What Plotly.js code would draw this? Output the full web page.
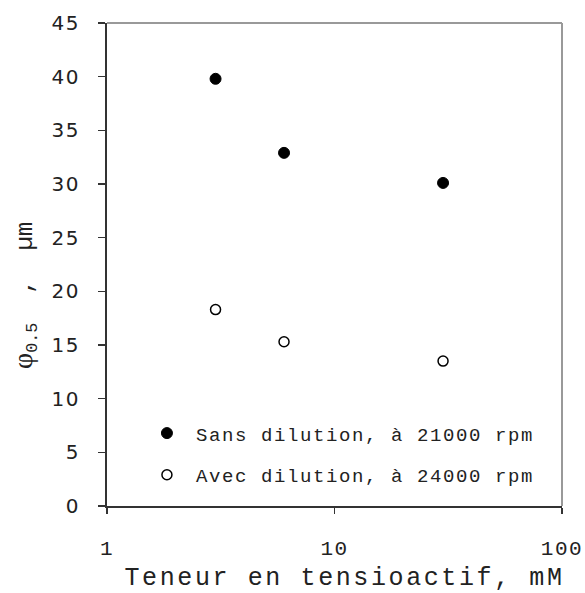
<!DOCTYPE html>
<html>
<head>
<meta charset="utf-8">
<script src="https://cdn.plot.ly/plotly-3.0.1.min.js"></script>
<style>
html,body{margin:0;padding:0;background:#fff;}
.legendtext{letter-spacing:1.6px;}
.ytick text{letter-spacing:1.5px;}
.xtick text{letter-spacing:1.5px;}
</style>
</head>
<body>
<div id="chart" style="width:585px;height:593px;"></div>
<script>
const concentrations = [3, 6, 30];
const sansDilution = [39.8, 32.9, 30.1];
const avecDilution = [18.3, 15.3, 13.5];
const seriesNames = ["Sans dilution, à 21000 rpm", "Avec dilution, à 24000 rpm"];
const xTickVals = [1, 10, 100];
const yTickVals = [0, 5, 10, 15, 20, 25, 30, 35, 40, 45];
const xTitle = "Teneur en tensioactif, mM";
const yTitle = "<span style='font-family:Liberation Serif;font-size:28px'>φ</span><sub>0.5</sub>  ,  µm";

const traces = [
  {
    x: concentrations, y: sansDilution, name: seriesNames[0], mode: "markers", type: "scatter",
    legendgroup: "a",
    marker: {symbol: "circle", size: 11, color: "#000", line: {color: "#000", width: 1}}
  },
  {
    x: concentrations, y: avecDilution, name: seriesNames[1], mode: "markers", type: "scatter",
    legendgroup: "b",
    marker: {symbol: "circle-open", size: 10, color: "#000", line: {color: "#000", width: 1.5}}
  }
];

const layout = {
  width: 585, height: 593,
  margin: {l: 107, r: 23, t: 23, b: 87},
  paper_bgcolor: "#fff", plot_bgcolor: "#fff",
  showlegend: true,
  legend: {
    x: 0.068, y: 0.19, xanchor: "left", yanchor: "top",
    bgcolor: "rgba(0,0,0,0)",
    font: {family: "Liberation Mono, monospace", size: 19, color: "#222"},
    traceorder: "grouped", tracegroupgap: 14, itemwidth: 48
  },
  xaxis: {
    type: "log", range: [0, 2],
    tickvals: xTickVals, ticktext: xTickVals.map(String),
    ticks: "outside", ticklen: 6, tickwidth: 1.5, tickcolor: "#333",
    ticklabelstandoff: 16,
    showgrid: false, zeroline: false,
    showline: true, linecolor: "#333", linewidth: 2,
    tickfont: {family: "Liberation Mono, monospace", size: 21, color: "#222"}
  },
  yaxis: {
    range: [0, 45],
    tickvals: yTickVals,
    ticks: "outside", ticklen: 7, tickwidth: 1.5, tickcolor: "#333",
    ticklabelstandoff: 14,
    showgrid: false, zeroline: false,
    showline: true, linecolor: "#333", linewidth: 2,
    tickfont: {family: "DejaVu Sans, sans-serif", size: 20, color: "#222"}
  },
  annotations: [
    {text: yTitle, xref: "paper", yref: "paper", x: -0.18, y: 0.435, xanchor: "center", yanchor: "middle",
     textangle: -90, showarrow: false, font: {family: "Liberation Mono, monospace", size: 24, color: "#222"}},
    {text: xTitle, xref: "paper", yref: "paper", x: 0.523, y: -0.151, xanchor: "center", yanchor: "middle",
     showarrow: false, font: {family: "Liberation Mono, monospace", size: 25, color: "#222"}}
  ],
  shapes: [
    {type: "line", xref: "paper", yref: "paper", x0: 0, x1: 1, y0: 1, y1: 1, line: {color: "#999", width: 2}},
    {type: "line", xref: "paper", yref: "paper", x0: 1, x1: 1, y0: 0, y1: 1, line: {color: "#999", width: 2}}
  ]
};

Plotly.newPlot("chart", traces, layout, {displayModeBar: false, staticPlot: true}).then(function () {
  const t = document.querySelectorAll(".annotation-text");
  if (t.length > 1) { t[1].style.letterSpacing = "2.6px"; }
});
</script>
</body>
</html>
